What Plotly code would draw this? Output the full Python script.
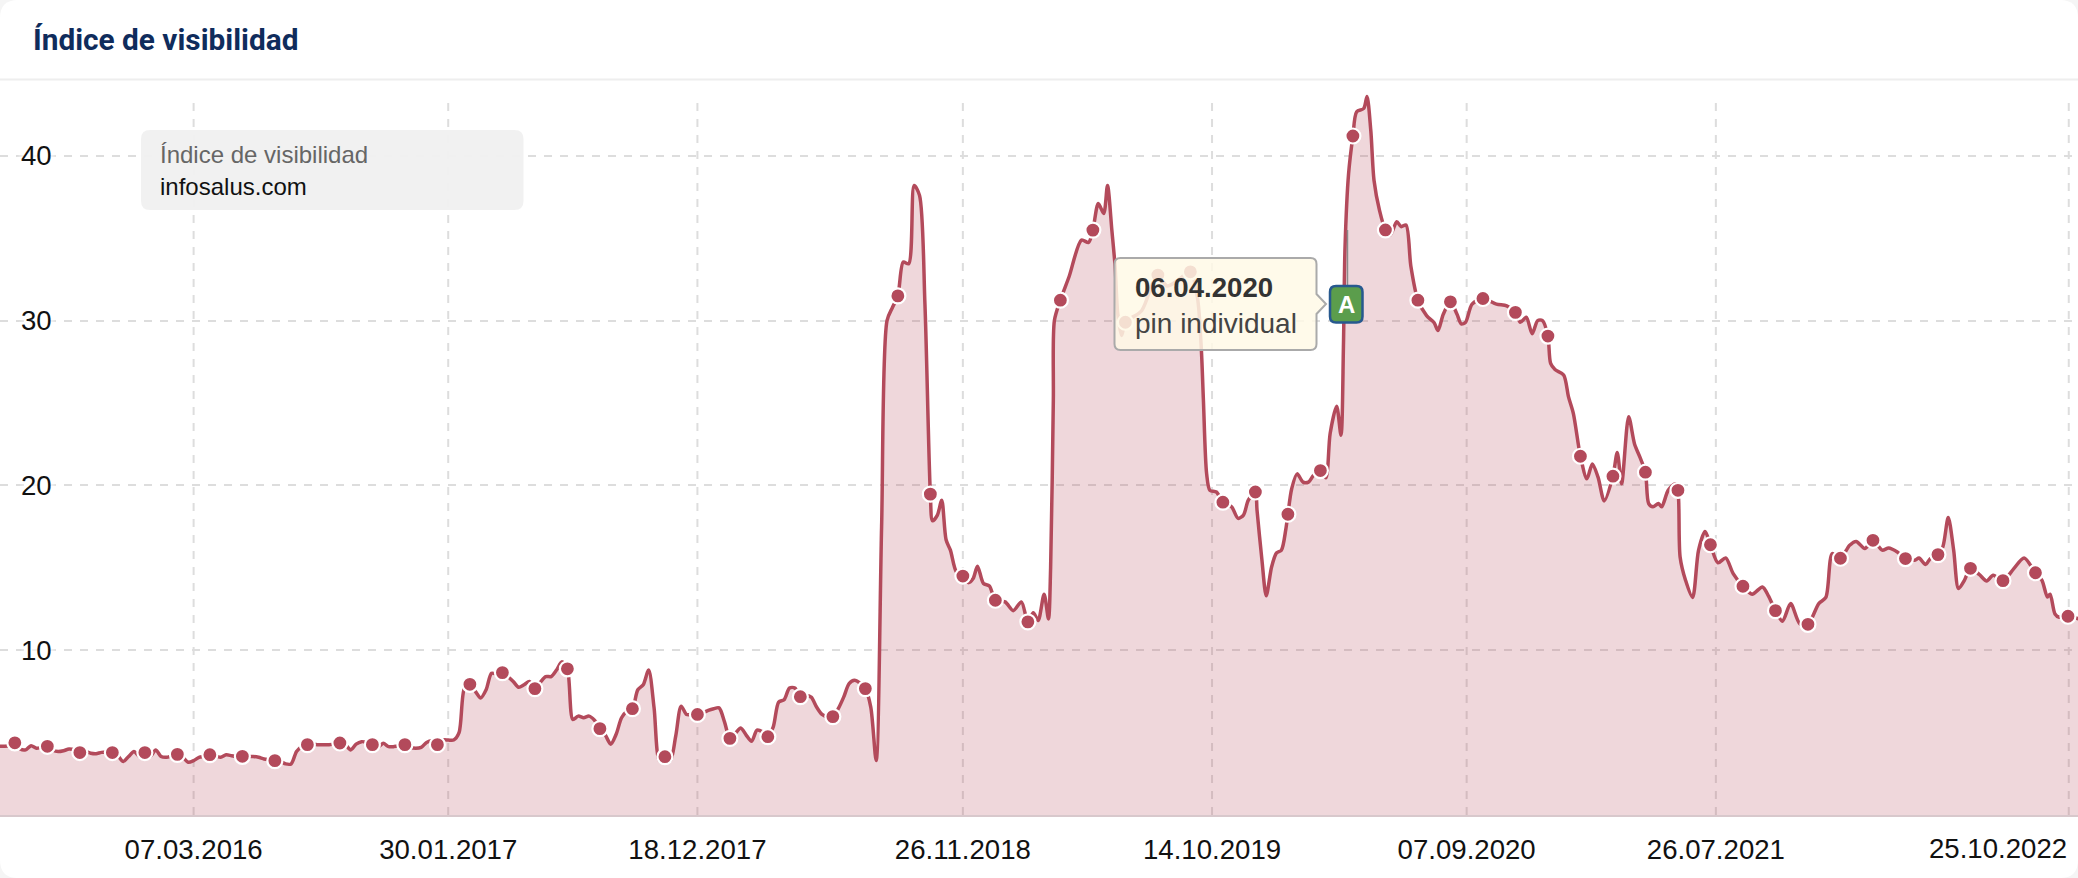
import pandas as pd
import plotly.graph_objects as go

TITLE = "Índice de visibilidad"
LEGEND_LINE_1 = "Índice de visibilidad"
LEGEND_LINE_2 = "infosalus.com"
TOOLTIP_DATE = "06.04.2020"
TOOLTIP_TEXT = "pin individual"
FLAG_LETTER = "A"
FLAG_DATE = "2020-04-06"

BASE_DATE = "2016-03-07"

# weeks relative to BASE_DATE, and the visibility value read at each of them
week_offsets = [
    -36, -35, -34, -33, -32, -31, -30, -29, -28, -27, -26, -25, -24, -23, -22, -21, -20, -19, -18, -17, -16, -15,
    -14, -13, -12, -11, -10, -9, -8, -7, -6, -5, -4, -3, -2, -1, 0, 1, 2, 3, 4, 5, 6, 7, 8, 9, 10, 11, 12, 13, 14,
    15, 16, 17, 18, 19, 20, 21, 22, 23, 24, 25, 26, 27, 28, 29, 30, 31, 32, 33, 34, 35, 36, 37, 38, 39, 40, 41, 42,
    43, 44, 45, 46, 47, 48, 49, 50, 51, 52, 53, 54, 55, 56, 57, 58, 59, 60, 61, 62, 63, 64, 65, 66, 67, 68, 69, 70,
    71, 72, 73, 74, 75, 76, 77, 78, 79, 80, 81, 82, 83, 84, 85, 86, 87, 88, 89, 90, 91, 92, 93, 94, 95, 96, 97, 98,
    99, 100, 101, 102, 103, 104, 105, 106, 107, 108, 109, 110, 111, 112, 113, 114, 115, 116, 117, 118, 119, 120,
    121, 122, 123, 124, 125, 126, 127, 128, 129, 130, 131, 132, 133, 134, 135, 136, 136.4, 137.3, 138.1, 138.9,
    139.7, 140.8, 142, 143, 143.9, 144.7, 145.8, 146.9, 148, 149.8, 151.3, 152.8, 154, 155, 155.9, 157, 157.8,
    158.2, 158.7, 158.9, 160, 161.6, 163.9, 165.2, 166, 167, 168, 168.7, 169.5, 170.1, 170.6, 171.3, 172, 175, 177,
    178, 179.7, 181.7, 184, 185.3, 186, 186.4, 187, 187.6, 188.8, 190, 191.6, 192.8, 193.8, 194.7, 196, 196.3,
    197.2, 198, 199, 199.9, 200.8, 201.6, 202, 202.7, 203.7, 204.8, 205.8, 206.7, 208, 209, 209.8, 211, 211.8,
    212.25, 212.55, 213.2, 214, 214.7, 216, 216.6, 217.3, 217.9, 218.9, 220, 220.9, 222.1, 222.9, 223.8, 224.7,
    226, 227.6, 229, 229.7, 230.7, 232, 233.2, 234, 234.8, 236, 238, 240.5, 242.4, 244, 244.9, 246, 247.1, 248.1,
    249, 250, 250.5, 251.3, 252.9, 253.8, 254.7, 256, 257.2, 258.2, 259.25, 260.4, 262, 262.8, 263.6, 264.9, 266,
    267, 268, 268.6, 269.4, 270.4, 271, 272.2, 273.5, 274, 274.4, 275.4, 276.7, 277.8, 279, 280, 281.4, 282.8,
    284.2, 286, 287.7, 289.6, 290.7, 292, 293.3, 294.8, 296.5, 298, 300, 301.3, 302.5, 304, 305.7, 306.9, 308.5,
    310, 311.7, 312.9, 314.5, 316, 317.7, 318.5, 319.7, 320.6, 322, 322.9, 323.9, 324.9, 325.8, 326.9, 328, 329.6,
    331, 332.2, 334, 336, 337.9, 340, 341.2, 342.2, 342.7, 343.6, 344.4, 346, 348,
]
visibility = [
    4.17, 4.17, 4.2, 4.38, 4.0, 3.95, 4.2, 4.05, 4.12, 4.17, 3.93, 3.85, 3.9, 4.0, 3.95, 3.79, 3.85, 3.75, 3.72, 3.8,
    3.8, 3.79, 3.6, 3.25, 3.55, 3.85, 3.55, 3.79, 3.55, 3.95, 3.55, 3.5, 3.6, 3.68, 3.5, 3.2, 3.3, 3.5, 3.55, 3.66,
    3.6, 3.5, 3.65, 3.6, 3.55, 3.56, 3.55, 3.55, 3.5, 3.4, 3.35, 3.3, 3.25, 3.1, 3.1, 3.85, 4.15, 4.27, 4.3, 4.27,
    4.27, 4.27, 4.3, 4.37, 4.27, 3.95, 4.3, 4.45, 4.4, 4.27, 4.1, 4.35, 4.15, 4.15, 4.2, 4.27, 4.1, 4.05, 4.1, 4.4,
    4.5, 4.27, 4.55, 4.55, 4.55, 5.0, 7.7, 7.93, 7.5, 7.1, 7.6, 8.6, 8.55, 8.64, 8.4, 8.1, 7.75, 7.9, 8.1, 7.67,
    8.05, 8.4, 8.4, 8.8, 9.3, 8.87, 5.8, 6.0, 5.9, 6.0, 5.75, 5.24, 4.85, 4.3, 4.9, 5.9, 6.3, 6.45, 7.6, 7.9, 8.8,
    6.5, 3.3, 3.54, 3.3, 4.8, 6.6, 6.1, 6.1, 6.1, 6.2, 6.35, 6.45, 6.5, 5.65, 4.65, 4.95, 5.28, 4.85, 4.47, 5.15,
    5.05, 4.75, 5.35, 6.85, 7.0, 7.7, 7.7, 7.18, 7.25, 7.15, 6.55, 6.1, 5.95, 5.97, 6.45, 7.15, 7.97, 8.17, 8.0,
    7.67, 6.55, 3.3, 17.5, 30.0, 30.8, 31.5, 33.55, 33.45, 38.2, 37.6, 31.0, 19.47, 17.85, 18.2, 19.1, 16.7,
    16.07, 14.75, 14.5, 14.1, 14.35, 15.1, 14.05, 13.9, 13.03, 12.93, 12.4, 12.93, 11.72, 12.27, 11.8, 13.4, 11.9,
    15.0, 25.17, 30.0, 31.24, 32.66, 34.88, 34.74, 35.49, 37.1, 36.5, 38.2, 35.5, 33.3, 30.4, 29.1, 29.9, 30.6,
    32.25, 32.76, 32.1, 32.45, 32.96, 31.4, 28.4, 25.2, 20.7, 19.7, 19.6, 18.98, 18.7, 18.0, 18.2, 19.1, 19.6,
    18.5, 15.5, 13.3, 15.06, 15.9, 16.07, 17.3, 18.25, 19.8, 20.7, 20.2, 20.2, 20.6, 20.9, 20.46, 23.15, 24.8,
    23.05, 28.4, 34.5, 38.9, 41.2, 42.67, 42.87, 43.6, 41.55, 38.5, 36.7, 35.5, 35.2, 36.0, 35.7, 35.8, 33.3,
    31.24, 30.3, 29.87, 29.4, 30.4, 31.14, 30.4, 29.8, 29.9, 31.0, 31.34, 31.0, 30.9, 30.5, 29.9, 30.2, 29.2, 30.0,
    30.0, 29.06, 27.4, 27.03, 26.7, 25.37, 24.36, 21.77, 20.4, 21.3, 20.5, 19.06, 20.56, 22.0, 20.1, 24.16, 22.5,
    21.7, 20.8, 18.9, 18.7, 18.9, 18.7, 19.7, 20.1, 19.7, 15.66, 14.25, 13.2, 16.06, 17.2, 16.4, 15.3, 15.6,
    14.65, 13.88, 13.4, 13.84, 13.3, 12.4, 11.76, 12.83, 11.6, 11.57, 12.83, 13.2, 15.86, 15.58, 16.37, 16.6, 16.17,
    16.67, 16.07, 16.2, 15.96, 15.56, 15.46, 15.6, 15.2, 15.56, 15.8, 16.27, 18.05, 16.07, 13.74, 14.25, 14.97, 14.6,
    14.2, 14.55, 14.22, 14.95, 15.6, 14.7, 14.24, 13.23, 13.4, 12.2, 12.0, 12.06, 11.9,
]
# weeks that carry a round marker
marker_weeks = [
    -33, -27, -21, -15, -9, -3, 3, 9, 15, 21, 27, 33, 39, 45, 51, 57, 63, 69, 75, 81, 87, 93, 99, 106, 112, 118, 124,
    130, 136, 142, 148, 154, 160, 166, 172, 178, 184, 190, 196, 202, 208, 214, 220, 226, 232, 238, 244, 250, 256,
    262, 268, 274, 280, 286, 292, 298, 304, 310, 316, 322, 328, 334, 340, 346,
]

tick_dates = ["2016-03-07", "2017-01-30", "2017-12-18", "2018-11-26", "2019-10-14", "2020-09-07", "2021-07-26", "2022-10-25"]
tick_labels = ["07.03.2016", "30.01.2017", "18.12.2017", "26.11.2018", "14.10.2019", "07.09.2020", "26.07.2021", "25.10.2022"]
y_ticks = [10, 20, 30, 40]

assert len(week_offsets) == len(visibility), (len(week_offsets), len(visibility))

W, H = 2078, 878
PLOT_TOP, PLOT_BOTTOM = 80, 815
PX_PER_UNIT = 16.48
LINE = "#b34a5b"


def to_date(week):
    return pd.Timestamp(BASE_DATE) + pd.Timedelta(days=week * 7)


def fx(px):
    return px / W


def fy(px):
    return (PLOT_BOTTOM - px) / (PLOT_BOTTOM - PLOT_TOP)


def rounded_path(x0, y0, x1, y1, r, pointer=None):
    parts = [
        f"M {fx(x0 + r)} {fy(y0)}", f"L {fx(x1 - r)} {fy(y0)}",
        f"Q {fx(x1)} {fy(y0)} {fx(x1)} {fy(y0 + r)}",
    ]
    if pointer:
        tip_x, tip_y, half = pointer
        parts += [f"L {fx(x1)} {fy(tip_y - half)}", f"L {fx(tip_x)} {fy(tip_y)}", f"L {fx(x1)} {fy(tip_y + half)}"]
    parts += [
        f"L {fx(x1)} {fy(y1 - r)}", f"Q {fx(x1)} {fy(y1)} {fx(x1 - r)} {fy(y1)}",
        f"L {fx(x0 + r)} {fy(y1)}", f"Q {fx(x0)} {fy(y1)} {fx(x0)} {fy(y1 - r)}",
        f"L {fx(x0)} {fy(y0 + r)}", f"Q {fx(x0)} {fy(y0)} {fx(x0 + r)} {fy(y0)}", "Z",
    ]
    return " ".join(parts)


dates = [to_date(k) for k in week_offsets]
value_by_week = dict(zip(week_offsets, visibility))
marker_dates = [to_date(k) for k in marker_weeks]
marker_values = [value_by_week[k] for k in marker_weeks]

fig = go.Figure()
fig.add_trace(go.Scatter(
    x=dates, y=visibility, mode="lines",
    line=dict(color=LINE, width=3.5, shape="spline", smoothing=0.8),
    fill="tozeroy", fillcolor="rgba(178,68,86,0.21)", hoverinfo="skip", showlegend=False,
))
fig.add_trace(go.Scatter(
    x=marker_dates, y=marker_values, mode="markers",
    marker=dict(color=LINE, size=15, line=dict(color="white", width=2.2)),
    hoverinfo="skip", showlegend=False,
))

shapes = [
    # card and header rule
    dict(type="path", xref="paper", yref="paper", layer="below", path=rounded_path(0, 0, W, H, 18),
         fillcolor="white", line=dict(width=0)),
    dict(type="line", xref="paper", yref="paper", layer="below", x0=0, x1=1, y0=fy(79.5), y1=fy(79.5),
         line=dict(color="#eeeeee", width=2)),
]
for d in tick_dates:
    shapes.append(dict(type="line", xref="x", yref="y", layer="below", x0=d, x1=d, y0=0, y1=43.4,
                       line=dict(color="#dddddd", width=2, dash="8px,8px")))
shapes += [
    # legend box
    dict(type="path", xref="paper", yref="paper", layer="above", path=rounded_path(141, 130, 523.5, 210, 9),
         fillcolor="#f0f0f0", line=dict(width=0), opacity=0.95),
    # tooltip of the pin
    dict(type="path", xref="paper", yref="paper", layer="above",
         path=rounded_path(1114.5, 258, 1316.5, 350, 6, pointer=(1326, 304, 10)),
         fillcolor="rgba(255,249,230,0.85)", line=dict(color="#aaaaaa", width=2)),
    # pin
    dict(type="line", xref="x", yref="paper", layer="above", x0=FLAG_DATE, x1=FLAG_DATE, y0=fy(285), y1=fy(230),
         line=dict(color="#8a8a8a", width=1.5)),
    dict(type="path", xref="paper", yref="paper", layer="above", path=rounded_path(1330, 286, 1362.5, 322.5, 6),
         fillcolor="#5b9d4c", line=dict(color="#27598f", width=2.5)),
]

annotations = [
    dict(xref="paper", yref="paper", x=fx(30.5), y=fy(40), xanchor="left", yanchor="middle", showarrow=False, text=f"<b>{TITLE}</b>",
         font=dict(family="Roboto", size=29.8, color="#0f2c5c")),
    dict(xref="paper", yref="paper", x=fx(158), y=fy(154), xanchor="left", yanchor="middle", showarrow=False, text=LEGEND_LINE_1,
         font=dict(family="Liberation Sans", size=24, color="#666666")),
    dict(xref="paper", yref="paper", x=fx(158), y=fy(186), xanchor="left", yanchor="middle", showarrow=False, text=LEGEND_LINE_2,
         font=dict(family="Liberation Sans", size=24, color="#111111")),
    dict(xref="paper", yref="paper", x=fx(1133), y=fy(287), xanchor="left", yanchor="middle", showarrow=False, text=f"<b>{TOOLTIP_DATE}</b>",
         font=dict(family="Liberation Sans", size=27.6, color="#333333")),
    dict(xref="paper", yref="paper", x=fx(1133), y=fy(323), xanchor="left", yanchor="middle", showarrow=False, text=TOOLTIP_TEXT,
         font=dict(family="Liberation Sans", size=28, color="#444444")),
    dict(xref="paper", yref="paper", x=fx(1346.2), y=fy(304), xanchor="center", yanchor="middle", showarrow=False, text=f"<b>{FLAG_LETTER}</b>",
         font=dict(family="Liberation Sans", size=24, color="white")),
    # the last label is kept inside the card, right aligned on its gridline
    dict(xref="x", yref="paper", x=tick_dates[-1], y=fy(848), xanchor="right", yanchor="middle", showarrow=False, text=tick_labels[-1],
         font=dict(family="Liberation Sans", size=27.6, color="#111111")),
]

fig.update_layout(
    width=W, height=H, autosize=False,
    margin=dict(l=0, r=0, t=PLOT_TOP, b=H - PLOT_BOTTOM),
    paper_bgcolor="#f5f5f5", plot_bgcolor="rgba(0,0,0,0)",
    showlegend=False, shapes=shapes, annotations=annotations,
    font=dict(family="Liberation Sans", color="#111111"),
    xaxis=dict(
        type="date", range=[to_date(-35.74), to_date(347.85)],
        tickmode="array", tickvals=tick_dates[:-1], ticktext=tick_labels[:-1],
        showgrid=False, zeroline=False, showline=True, linecolor="#d8c8cc", linewidth=2,
        ticks="", ticklabelstandoff=9, tickfont=dict(size=27.6, color="#111111"),
    ),
    yaxis=dict(
        range=[0, (PLOT_BOTTOM - PLOT_TOP) / PX_PER_UNIT],
        tickmode="array", tickvals=y_ticks, ticktext=[str(v) for v in y_ticks],
        ticklabelposition="inside", ticklabelstandoff=18, ticks="",
        showgrid=True, gridcolor="#dddddd", gridwidth=2, griddash="8px,8px",
        zeroline=False, showline=False,
        tickfont=dict(size=27.6, color="#111111", shadow="0 0 6px white, 0 0 6px white, 0 0 6px white, 0 0 6px white"),
    ),
)

fig.write_html(
    "out.html",
    config={"displayModeBar": False},
    post_script="document.body.style.margin='0';document.body.style.overflow='hidden';",
)
